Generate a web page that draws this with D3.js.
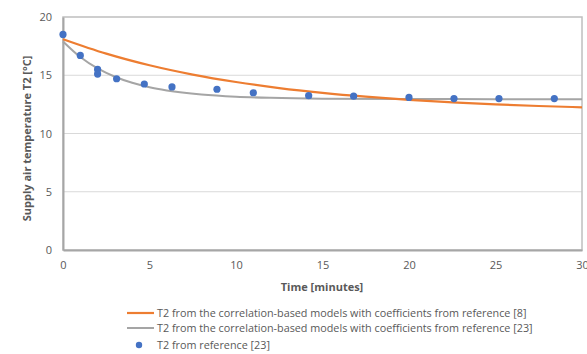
<!DOCTYPE html>
<html>
<head>
<meta charset="utf-8">
<script src="https://cdn.jsdelivr.net/npm/d3@7"></script>
<style>
  html, body { margin: 0; padding: 0; background: #fff; }
  svg { display: block; font-family: "Open Sans", "Noto Sans", sans-serif; }
</style>
</head>
<body>
<svg id="chart" width="587" height="354"></svg>
<script>
// Model curve from correlation-based models, coefficients of reference [8]
const timeModel8 = [0, 2.5, 5, 7.5, 10, 12.5, 15, 17.5, 20, 22.5, 25, 27.5, 30];
const tempModel8 = [18.1, 16.86, 15.86, 15.06, 14.42, 13.9, 13.49, 13.16, 12.89, 12.68, 12.5, 12.36, 12.25];

// Model curve from correlation-based models, coefficients of reference [23]
const timeModel23 = [0, 1, 2, 3, 4, 5, 6, 8, 10, 12, 15, 20, 25, 30];
const tempModel23 = [17.9, 16.56, 15.58, 14.87, 14.35, 13.97, 13.7, 13.35, 13.16, 13.06, 12.99, 12.96, 12.95, 12.95];

// Measured T2 from reference [23]
const timeRef23 = [0, 1, 2, 2, 3.1, 4.7, 6.3, 8.9, 11, 14.2, 16.8, 20, 22.6, 25.2, 28.4];
const tempRef23 = [18.5, 16.7, 15.5, 15.1, 14.7, 14.25, 14.0, 13.8, 13.5, 13.25, 13.2, 13.1, 13.0, 13.0, 13.0];

const xTicks = [0, 5, 10, 15, 20, 25, 30];
const yTicks = [0, 5, 10, 15, 20];

const legendLabels = [
  "T2 from the correlation-based models with coefficients from reference [8]",
  "T2 from the correlation-based models with coefficients from reference [23]",
  "T2 from reference [23]"
];

const colors = { orange: "#ED7D31", gray: "#A5A5A5", blue: "#4472C4" };

const svg = d3.select("#chart");
const plot = { left: 63, right: 582, top: 17, bottom: 250 };

const x = d3.scaleLinear().domain([0, 30]).range([plot.left, plot.right]);
const y = d3.scaleLinear().domain([0, 20]).range([plot.bottom, plot.top]);

// Horizontal gridlines
svg.append("g")
  .selectAll("line")
  .data(yTicks.filter(d => d > 0 && d < 20))
  .join("line")
  .attr("x1", plot.left).attr("x2", plot.right)
  .attr("y1", d => y(d)).attr("y2", d => y(d))
  .attr("stroke", "#d9d9d9").attr("stroke-width", 1);

// Plot frame
svg.append("rect")
  .attr("x", plot.left).attr("y", plot.top)
  .attr("width", plot.right - plot.left).attr("height", plot.bottom - plot.top)
  .attr("fill", "none").attr("stroke", "#bfbfbf").attr("stroke-width", 1.5);

// Axes
const xAxis = svg.append("g")
  .attr("transform", `translate(0,${plot.bottom})`)
  .call(d3.axisBottom(x).tickValues(xTicks).tickSize(0).tickPadding(11));
const yAxis = svg.append("g")
  .attr("transform", `translate(${plot.left},0)`)
  .call(d3.axisLeft(y).tickValues(yTicks).tickSize(0).tickPadding(11));
[xAxis, yAxis].forEach(g => {
  g.select(".domain").attr("stroke", "#a6a6a6").attr("stroke-width", 2);
  g.selectAll("text").attr("fill", "#595959").attr("font-size", 11)
    .attr("font-family", "'Open Sans', 'Noto Sans', sans-serif");
});

// Curves
const line = d3.line().curve(d3.curveMonotoneX)
  .x(d => x(d[0])).y(d => y(d[1]));

svg.append("path")
  .datum(timeModel23.map((t, i) => [t, tempModel23[i]]))
  .attr("d", line)
  .attr("fill", "none").attr("stroke", colors.gray).attr("stroke-width", 2);

svg.append("path")
  .datum(timeModel8.map((t, i) => [t, tempModel8[i]]))
  .attr("d", line)
  .attr("fill", "none").attr("stroke", colors.orange).attr("stroke-width", 2.2);

// Measured points
svg.append("g")
  .selectAll("circle")
  .data(timeRef23.map((t, i) => [t, tempRef23[i]]))
  .join("circle")
  .attr("cx", d => x(d[0])).attr("cy", d => y(d[1]))
  .attr("r", 3.6).attr("fill", colors.blue);

// Axis titles
svg.append("text")
  .attr("x", 322).attr("y", 291)
  .attr("text-anchor", "middle")
  .attr("font-size", 11).attr("font-weight", "bold").attr("fill", "#595959")
  .text("Time [minutes]");

svg.append("text")
  .attr("transform", `translate(31,${(plot.top + plot.bottom) / 2 + 5}) rotate(-90)`)
  .attr("text-anchor", "middle")
  .attr("font-size", 11).attr("font-weight", "bold").attr("fill", "#595959")
  .text("Supply air temperature T2 [°C]");

// Legend
const legend = svg.append("g").attr("font-size", 10.8).attr("fill", "#595959");
const legendRows = [
  { type: "line", color: colors.orange, width: 2.2, y: 313 },
  { type: "line", color: colors.gray, width: 2, y: 328 },
  { type: "dot", color: colors.blue, y: 345 }
];
legendRows.forEach((row, i) => {
  if (row.type === "line") {
    legend.append("line")
      .attr("x1", 127).attr("x2", 154).attr("y1", row.y).attr("y2", row.y)
      .attr("stroke", row.color).attr("stroke-width", row.width);
  } else {
    legend.append("circle")
      .attr("cx", 139).attr("cy", row.y).attr("r", 3.2).attr("fill", row.color);
  }
  legend.append("text")
    .attr("x", 157).attr("y", row.y + 3.8)
    .text(legendLabels[i]);
});
</script>
</body>
</html>
